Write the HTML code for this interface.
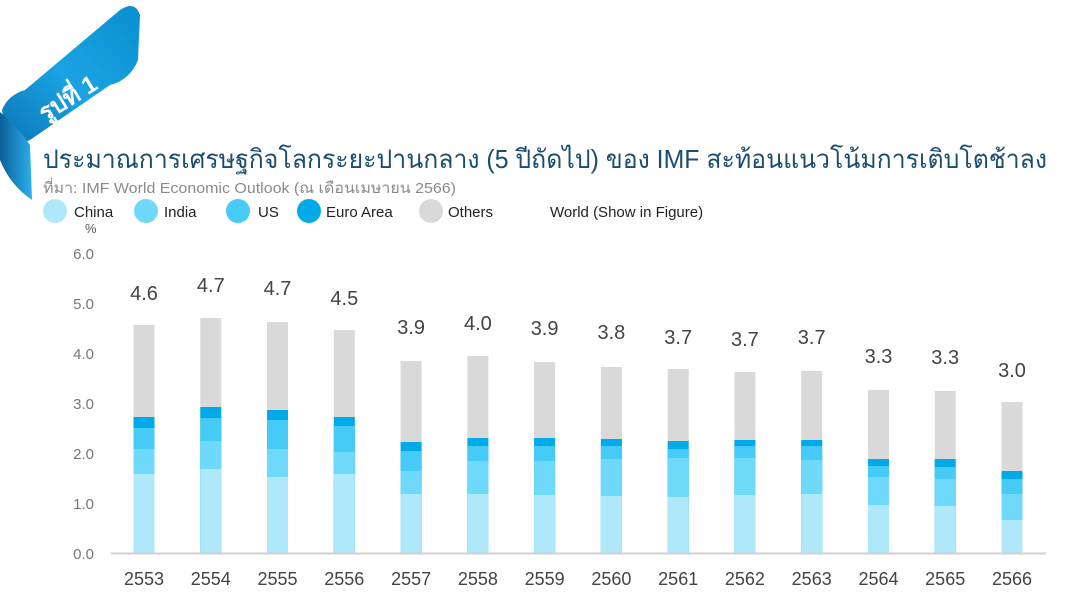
<!DOCTYPE html>
<html><head><meta charset="utf-8"><style>
html,body{margin:0;padding:0;background:#fff;}
svg{display:block;font-family:"Liberation Sans","DejaVu Sans",sans-serif;}
</style></head><body>
<svg width="1069" height="595" viewBox="0 0 1069 595" xmlns="http://www.w3.org/2000/svg">
<defs>
<linearGradient id="rg" x1="0" y1="1" x2="1" y2="0">
<stop offset="0" stop-color="#0a6fb0"/><stop offset="0.5" stop-color="#1aa3e3"/><stop offset="1" stop-color="#0a8fd0"/>
</linearGradient>
<linearGradient id="rg2" x1="0" y1="0" x2="1" y2="0">
<stop offset="0" stop-color="#0a5f9a"/><stop offset="1" stop-color="#2bb0ea"/>
</linearGradient>
</defs>
<path d="M2,110 Q8,95 25,90 L120,10 Q135,0 140,15 L138,60 Q130,80 110,85 L30,140 Q15,145 10,160 Z" fill="url(#rg)"/>
<path d="M0,112 Q20,130 30,145 L32,200 Q10,185 0,160 Z" fill="url(#rg2)"/>
<text x="0" y="0" transform="translate(45,122) rotate(-32)" fill="#fff" font-size="24" font-weight="bold">รูปที่ 1</text>
<text x="43" y="168" fill="#1b4d6e" font-size="26" textLength="1004" lengthAdjust="spacingAndGlyphs">ประมาณการเศรษฐกิจโลกระยะปานกลาง (5 ปีถัดไป) ของ IMF สะท้อนแนวโน้มการเติบโตช้าลง</text>
<text x="43" y="193" fill="#8a8a8a" font-size="15" textLength="413" lengthAdjust="spacingAndGlyphs">ที่มา: IMF World Economic Outlook (ณ เดือนเมษายน 2566)</text>
<g font-size="15" fill="#222">
<circle cx="55" cy="211" r="12" fill="#b0e8fb"/><text x="74" y="217">China</text>
<circle cx="146" cy="211" r="12" fill="#6fd9fb"/><text x="164" y="217">India</text>
<circle cx="238" cy="211" r="12" fill="#45cbf5"/><text x="258" y="217">US</text>
<circle cx="309" cy="211" r="12" fill="#00a9e8"/><text x="326" y="217">Euro Area</text>
<circle cx="431" cy="211" r="12" fill="#d9d9d9"/><text x="448" y="217">Others</text>
<text x="550" y="217">World (Show in Figure)</text>
</g>
<text x="85" y="233" font-size="13" fill="#555">%</text>
<g font-size="15" fill="#777" text-anchor="end">
<text x="94" y="559">0.0</text><text x="94" y="509">1.0</text><text x="94" y="459">2.0</text>
<text x="94" y="409">3.0</text><text x="94" y="359">4.0</text><text x="94" y="309">5.0</text><text x="94" y="259">6.0</text>
</g>
<!-- Others -->
<g fill="#d9d9d9">
<rect x="133.5" y="325" width="21" height="228"/>
<rect x="200.3" y="318" width="21" height="235"/>
<rect x="267" y="322" width="21" height="231"/>
<rect x="333.8" y="330" width="21" height="223"/>
<rect x="400.6" y="361" width="21" height="192"/>
<rect x="467.4" y="356" width="21" height="197"/>
<rect x="534.1" y="362" width="21" height="191"/>
<rect x="600.9" y="367" width="21" height="186"/>
<rect x="667.7" y="369" width="21" height="184"/>
<rect x="734.4" y="372" width="21" height="181"/>
<rect x="801.2" y="371" width="21" height="182"/>
<rect x="868" y="390" width="21" height="163"/>
<rect x="934.7" y="391" width="21" height="162"/>
<rect x="1001.5" y="402" width="21" height="151"/>
</g>
<!-- Euro -->
<g fill="#00a9e8">
<rect x="133.5" y="417" width="21" height="136"/>
<rect x="200.3" y="407" width="21" height="146"/>
<rect x="267" y="410" width="21" height="143"/>
<rect x="333.8" y="417" width="21" height="136"/>
<rect x="400.6" y="442" width="21" height="111"/>
<rect x="467.4" y="438" width="21" height="115"/>
<rect x="534.1" y="438" width="21" height="115"/>
<rect x="600.9" y="439" width="21" height="114"/>
<rect x="667.7" y="441" width="21" height="112"/>
<rect x="734.4" y="440" width="21" height="113"/>
<rect x="801.2" y="440" width="21" height="113"/>
<rect x="868" y="459" width="21" height="94"/>
<rect x="934.7" y="459" width="21" height="94"/>
<rect x="1001.5" y="471" width="21" height="82"/>
</g>
<!-- US -->
<g fill="#45cbf5">
<rect x="133.5" y="428" width="21" height="125"/>
<rect x="200.3" y="418" width="21" height="135"/>
<rect x="267" y="420" width="21" height="133"/>
<rect x="333.8" y="426" width="21" height="127"/>
<rect x="400.6" y="451" width="21" height="102"/>
<rect x="467.4" y="446" width="21" height="107"/>
<rect x="534.1" y="446" width="21" height="107"/>
<rect x="600.9" y="446" width="21" height="107"/>
<rect x="667.7" y="449" width="21" height="104"/>
<rect x="734.4" y="446" width="21" height="107"/>
<rect x="801.2" y="446" width="21" height="107"/>
<rect x="868" y="466" width="21" height="87"/>
<rect x="934.7" y="467" width="21" height="86"/>
<rect x="1001.5" y="479" width="21" height="74"/>
</g>
<!-- India -->
<g fill="#6fd9fb">
<rect x="133.5" y="449" width="21" height="104"/>
<rect x="200.3" y="441" width="21" height="112"/>
<rect x="267" y="449" width="21" height="104"/>
<rect x="333.8" y="452" width="21" height="101"/>
<rect x="400.6" y="471" width="21" height="82"/>
<rect x="467.4" y="461" width="21" height="92"/>
<rect x="534.1" y="461" width="21" height="92"/>
<rect x="600.9" y="459" width="21" height="94"/>
<rect x="667.7" y="458" width="21" height="95"/>
<rect x="734.4" y="458" width="21" height="95"/>
<rect x="801.2" y="460" width="21" height="93"/>
<rect x="868" y="477" width="21" height="76"/>
<rect x="934.7" y="479" width="21" height="74"/>
<rect x="1001.5" y="494" width="21" height="59"/>
</g>
<!-- China -->
<g fill="#b0e8fb">
<rect x="133.5" y="474" width="21" height="79"/>
<rect x="200.3" y="469" width="21" height="84"/>
<rect x="267" y="477" width="21" height="76"/>
<rect x="333.8" y="474" width="21" height="79"/>
<rect x="400.6" y="494" width="21" height="59"/>
<rect x="467.4" y="494" width="21" height="59"/>
<rect x="534.1" y="495" width="21" height="58"/>
<rect x="600.9" y="496" width="21" height="57"/>
<rect x="667.7" y="497" width="21" height="56"/>
<rect x="734.4" y="495" width="21" height="58"/>
<rect x="801.2" y="494" width="21" height="59"/>
<rect x="868" y="505" width="21" height="48"/>
<rect x="934.7" y="506" width="21" height="47"/>
<rect x="1001.5" y="520" width="21" height="33"/>
</g>
<line x1="111" y1="553.5" x2="1046" y2="553.5" stroke="#d0d0d0" stroke-width="2"/>
<g font-size="20" fill="#444" text-anchor="middle">
<text x="144" y="300">4.6</text>
<text x="210.8" y="292">4.7</text>
<text x="277.5" y="295">4.7</text>
<text x="344.3" y="305">4.5</text>
<text x="411.1" y="334">3.9</text>
<text x="477.9" y="330">4.0</text>
<text x="544.6" y="335">3.9</text>
<text x="611.4" y="339">3.8</text>
<text x="678.2" y="344">3.7</text>
<text x="744.9" y="346">3.7</text>
<text x="811.7" y="344">3.7</text>
<text x="878.5" y="363">3.3</text>
<text x="945.2" y="364">3.3</text>
<text x="1012" y="377">3.0</text>
</g>
<g font-size="18" fill="#444" text-anchor="middle">
<text x="144" y="585">2553</text>
<text x="210.8" y="585">2554</text>
<text x="277.5" y="585">2555</text>
<text x="344.3" y="585">2556</text>
<text x="411.1" y="585">2557</text>
<text x="477.9" y="585">2558</text>
<text x="544.6" y="585">2559</text>
<text x="611.4" y="585">2560</text>
<text x="678.2" y="585">2561</text>
<text x="744.9" y="585">2562</text>
<text x="811.7" y="585">2563</text>
<text x="878.5" y="585">2564</text>
<text x="945.2" y="585">2565</text>
<text x="1012" y="585">2566</text>
</g>
</svg>
</body></html>
